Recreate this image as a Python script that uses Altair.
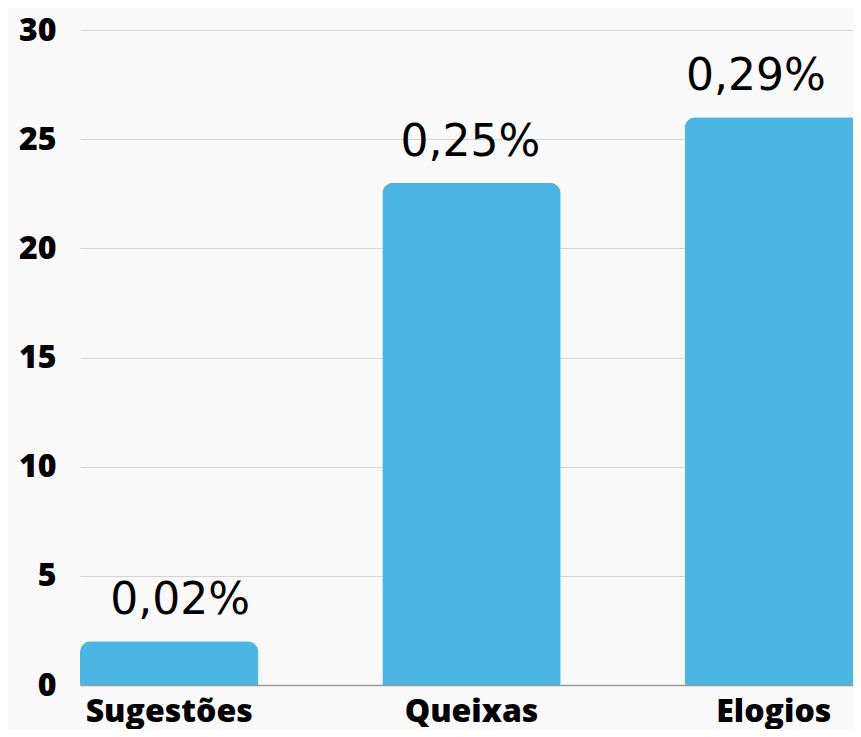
import altair as alt
import pandas as pd

categories = ["Sugestões", "Queixas", "Elogios"]
values = [2, 23, 26]
labels = ["0,02%", "0,25%", "0,29%"]

df = pd.DataFrame({"cat": categories, "val": values, "lab": labels})

x = alt.X("cat:N", sort=categories, title=None,
          scale=alt.Scale(range=[0, 783], paddingInner=0.41, paddingOuter=0),
          axis=alt.Axis(labelAngle=0, labelFont="Open Sans", labelFontWeight=800,
                        labelFontSize=32, labelColor="#000000", labelPadding=11,
                        ticks=False, domain=True, domainColor="#9a9a9a", domainWidth=1.5))
y = alt.Y("val:Q", title=None,
          scale=alt.Scale(domain=[0, 30], nice=False),
          axis=alt.Axis(values=[0, 5, 10, 15, 20, 25, 30], labelFont="Open Sans",
                        labelFontWeight=800, labelFontSize=32, labelColor="#000000",
                        labelPadding=24, ticks=False, domain=False,
                        gridColor="#d4d4d4", gridWidth=1.2))

base = alt.Chart(df)
bars = base.mark_bar(color="#4bb5e3", cornerRadiusTopLeft=11,
                     cornerRadiusTopRight=11).encode(x=x, y=y)

layers = [bars]
# horizontal nudges of the value labels, as in the original
for cat, nudge in zip(categories, (11, -1, -18)):
    layers.append(
        base.transform_filter(alt.datum.cat == cat).mark_text(
            font="DejaVu Sans", fontSize=44, color="#000000",
            baseline="alphabetic", dy=-27, dx=nudge).encode(
            x=alt.X("cat:N", sort=categories), y="val:Q", text="lab:N")
    )

chart = alt.layer(*layers).properties(
    width=773, height=655,
    padding={"left": 72, "top": 22, "right": 0, "bottom": 44},
    autosize=alt.AutoSizeParams(type="none"),
    background="#f9f9f9",
).configure_view(strokeWidth=0)

chart.save("out.html", embed_options={"renderer": "svg", "actions": False})
